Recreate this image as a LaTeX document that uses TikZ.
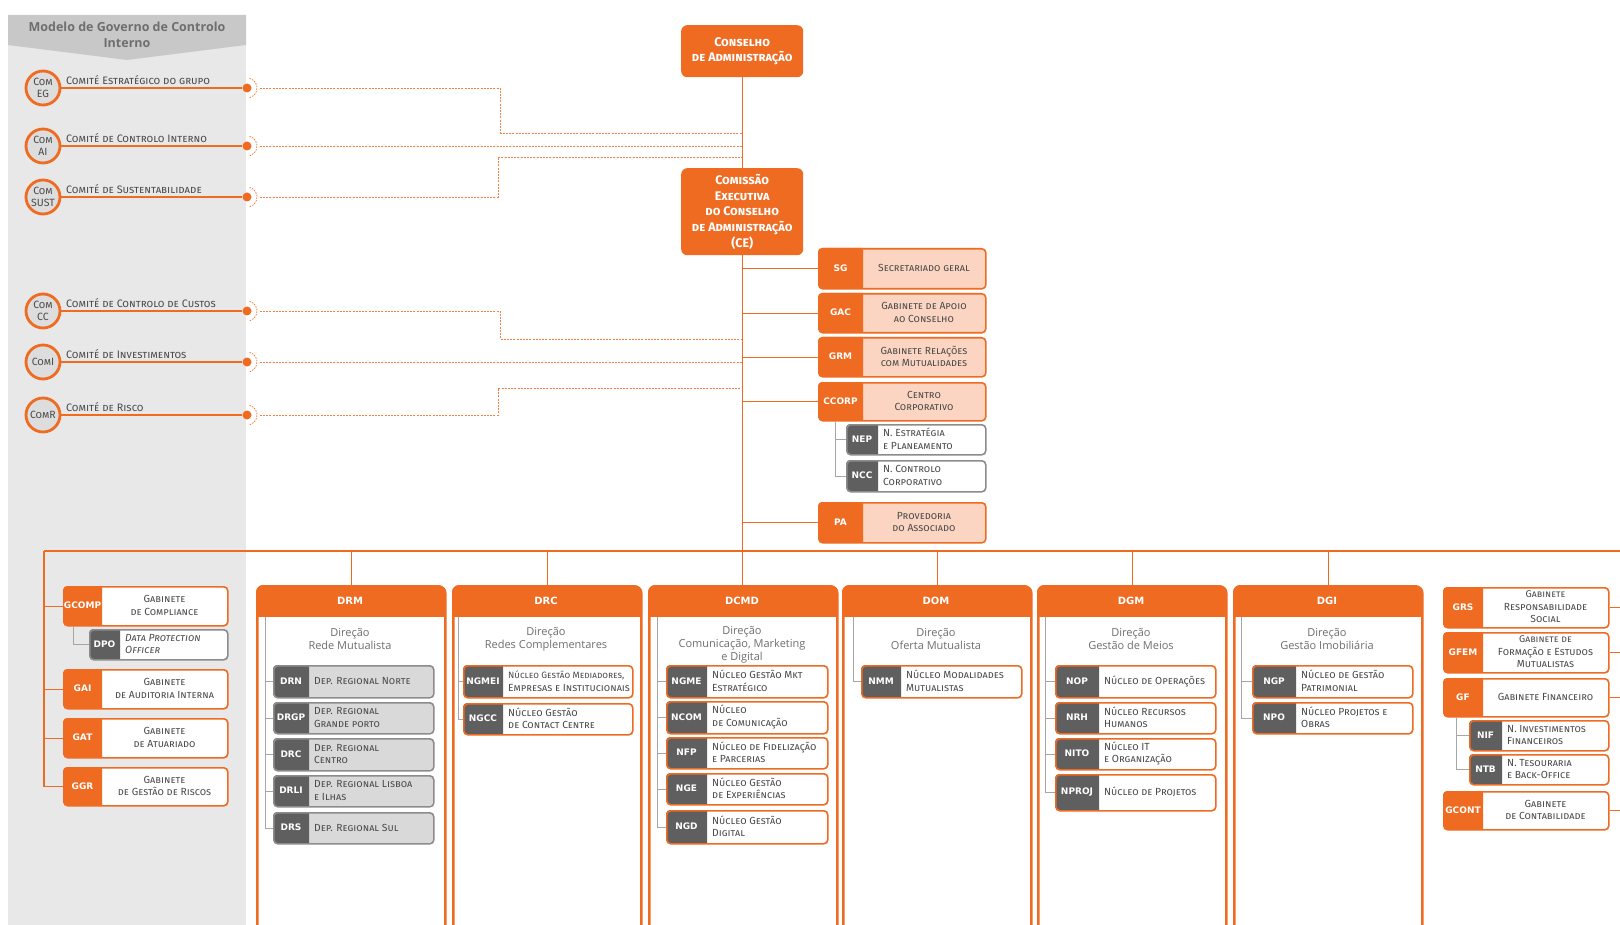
\documentclass[tikz,border=0pt]{standalone}
\usepackage{fontspec}
\setmainfont{Open Sans}
\newfontfamily\scf{Fira Sans}
\newfontfamily\cdf{DejaVu Sans}
\usetikzlibrary{calc}
\definecolor{OR}{HTML}{EE6B21}
\definecolor{SAL}{HTML}{FBD5C1}
\definecolor{DG}{HTML}{5F5F5F}
\definecolor{LG}{HTML}{D9D9D9}
\definecolor{GB}{HTML}{8C8C8C}
\definecolor{PAN}{HTML}{E8E8E8}
\definecolor{HDR}{HTML}{C8C8C8}
\definecolor{TX}{HTML}{4A4A4A}
\definecolor{TR}{HTML}{A6A6A6}
\definecolor{DIRT}{HTML}{6E6E6E}
\definecolor{CIR}{HTML}{DDDDDD}
\colorlet{salB}{OR}\colorlet{salC}{OR}\colorlet{salF}{SAL}
\colorlet{whtB}{OR}\colorlet{whtC}{OR}\colorlet{whtF}{white}
\colorlet{gryB}{GB}\colorlet{gryC}{DG}\colorlet{gryF}{LG}
\colorlet{nucB}{OR}\colorlet{nucC}{DG}\colorlet{nucF}{white}
\colorlet{subB}{GB}\colorlet{subC}{DG}\colorlet{subF}{white}
\def\leftgry{}\def\leftnuc{}\def\leftsub{}
\tikzset{
  codetxt/.style={font=\cdf\bfseries\fontsize{9}{11}\selectfont, text=white, inner sep=0pt},
  labtxt/.style={font=\scf\scshape\fontsize{10.3}{12.5}\selectfont, text=TX, inner sep=0pt},
  hdrtxt/.style={font=\cdf\bfseries\fontsize{10}{11}\selectfont, text=white, inner sep=0pt},
  dirtxt/.style={font=\fontsize{11}{12.8}\selectfont, text=DIRT, align=center, inner sep=0pt},
  commc/.style={circle, draw=OR, line width=2.8pt, fill=CIR, minimum size=34pt, inner sep=0pt, font=\scf\scshape\fontsize{10.5}{11.5}\selectfont, text=TX, align=center},
  dotn/.style={circle, fill=OR, minimum size=9pt, inner sep=0pt},
  commlab/.style={font=\scf\scshape\fontsize{10.8}{12}\selectfont, text=TX, inner sep=1pt},
  topbox/.style={fill=OR, rounded corners=6pt, text=white, font=\scf\scshape\bfseries\fontsize{12.5}{15.8}\selectfont, align=center, inner sep=0pt, anchor=north west},
  ln/.style={draw=OR, line width=1.2pt},
  tree/.style={draw=TR, line width=1pt},
  dsh/.style={draw=OR!85, line width=0.8pt, dash pattern=on 2pt off 1.2pt},
  ttl/.style={font=\bfseries\fontsize{12.5}{16}\selectfont, text=DIRT, align=center, inner sep=0pt}
}
\newcommand\ubox[9][sal]{%
  \fill[#1F, rounded corners=4pt] (#3,#4) rectangle (#5,#6);
  \begin{scope}
    \clip (#3-3,#4-3) rectangle (#7,#6+3);
    \fill[#1C, rounded corners=4pt] (#3,#4) rectangle (#5,#6);
  \end{scope}
  \node[draw=#1B, line width=1.6pt, rounded corners=4pt, inner sep=0pt, outer sep=0.8pt, anchor=north west, minimum width={(#5-#3)*1pt}, minimum height={(#6-#4)*1pt}] (#2) at (#3,#4) {};
  \node[codetxt] at ({(#3+#7)/2},{(#4+#6)/2}) {#8};
  \expandafter\ifx\csname left#1\endcsname\relax
    \node[labtxt, align=center] at ({(#7+#5)/2},{(#4+#6)/2}) {#9};
  \else
    \node[labtxt, align=left, anchor=west] at ({#7+5},{(#4+#6)/2}) {#9};
  \fi
}
\newcommand\dircol[6]{%
  \begin{scope}
    \clip[rounded corners=7pt] (#2,585) rectangle (#3,990);
    \fill[white] (#2,585) rectangle (#3,990);
    \fill[OR] (#2,585) rectangle (#3,617);
  \end{scope}
  \node[draw=OR, line width=2.6pt, rounded corners=7pt, inner sep=0pt, anchor=north west, minimum width={(#3-#2)*1pt}, minimum height=400pt] (#1) at (#2,585) {};
  \node[hdrtxt] at ({(#2+#3)/2},601) {#4};
  \node[dirtxt] at ({(#2+#3)/2},#6) {#5};
}
\newcommand\comm[4]{%
  \node[commc] (c#1) at (43,#2) {#3};
  \node[dotn] (d#1) at (247,#2) {};
  \draw[OR, line width=2.2pt] (c#1) -- (d#1);
  \node[commlab, anchor=south west] at (65,#2-2) {#4};
  \draw[OR, dash pattern=on 1.5pt off 1.2pt, line width=0.7pt] (d#1) ++(-75:10) arc[start angle=-75, end angle=75, radius=10];
}
\begin{document}
\begin{tikzpicture}[x=1pt,y=-1pt]
\useasboundingbox (0,0) rectangle (1620,925);
\fill[white] (0,0) rectangle (1620,925);
% left panel
\fill[PAN] (8,15) rectangle (246,925);
\fill[HDR] (8,15) -- (246,15) -- (246,45) -- (127,60) -- (8,45) -- cycle;
\node[ttl] (title) at (127,35) {Modelo de Governo de Controlo\\Interno};
% committees
\comm{EG}{88}{Com\\EG}{Comité Estratégico do grupo}
\comm{AI}{146}{Com\\AI}{Comité de Controlo Interno}
\comm{SUST}{197}{Com\\SUST}{Comité de Sustentabilidade}
\comm{CC}{311}{Com\\CC}{Comité de Controlo de Custos}
\comm{I}{362}{ComI}{Comité de Investimentos}
\comm{R}{415}{ComR}{Comité de Risco}
% top boxes
\node[topbox, minimum width=122pt, minimum height=52pt] (ca) at (681,25) {Conselho\\de Administração};
\node[topbox, minimum width=122pt, minimum height=87pt] (ce) at (681,168) {Comissão\\Executiva\\do Conselho\\de Administração\\(CE)};
% main line coordinates
\coordinate (mEG) at (742,133);
\coordinate (mAI) at (742,146);
\coordinate (mSUST) at (742,157);
\coordinate (mCC) at (742,339);
\coordinate (mI) at (742,362);
\coordinate (mR) at (742,388);
\coordinate (kEG) at (500,88);
\coordinate (kSUST) at (498,197);
\coordinate (kCC) at (500,311);
\coordinate (kR) at (498,415);
\draw[dsh] (dEG.east) ++(8,0) -- (kEG) |- (mEG);
\draw[dsh] (dAI.east) ++(8,0) -- (mAI);
\draw[dsh] (dSUST.east) ++(8,0) -- (kSUST) |- (mSUST);
\draw[dsh] (dCC.east) ++(8,0) -- (kCC) |- (mCC);
\draw[dsh] (dI.east) ++(8,0) -- (mI);
\draw[dsh] (dR.east) ++(8,0) -- (kR) |- (mR);
% CE side boxes
\ubox{sg}{818}{248}{985}{288}{863}{SG}{Secretariado geral}
\ubox{gac}{818}{293}{985}{332}{863}{GAC}{Gabinete de Apoio\\ao Conselho}
\ubox{grm}{818}{337}{985}{376}{863}{GRM}{Gabinete Relações\\com Mutualidades}
\ubox{ccorp}{818}{382}{985}{420}{863}{CCORP}{Centro\\Corporativo}
\ubox[sub]{nep}{846}{424}{985}{454}{878}{NEP}{N. Estratégia\\e Planeamento}
\ubox[sub]{ncc}{846}{460}{985}{491}{878}{NCC}{N. Controlo\\Corporativo}
\ubox{pa}{818}{502}{985}{542}{863}{PA}{Provedoria\\do Associado}
\draw[tree] ([xshift=17pt]ccorp.south west) |- (nep.west);
\draw[tree] ([xshift=17pt]ccorp.south west) |- (ncc.west);
% columns
\dircol{cDRM}{256}{444}{DRM}{Direção\\Rede Mutualista}{639}
\dircol{cDRC}{452}{640}{DRC}{Direção\\Redes Complementares}{639}
\dircol{cDCMD}{648}{836}{DCMD}{Direção\\Comunicação, Marketing\\e Digital}{645}
\dircol{cDOM}{842}{1030}{DOM}{Direção\\Oferta Mutualista}{639}
\dircol{cDGM}{1037}{1225}{DGM}{Direção\\Gestão de Meios}{639}
\dircol{cDGI}{1233}{1421}{DGI}{Direção\\Gestão Imobiliária}{639}
% main line and bus
\coordinate (busL) at (44,551);
\coordinate (busR) at (1620,551);
\draw[ln] (ca) -- (ce);
\draw[ln] (ce.south) -- (ce.south |- cDCMD.north);
\draw[ln] (busL) -- (busR);
\foreach \n in {sg,gac,grm,ccorp,pa} \draw[ln] (ce.south |- \n.west) -- (\n.west);
\foreach \n in {cDRM,cDRC,cDOM,cDGM,cDGI} \draw[ln] (\n.north |- busL) -- (\n.north);
% left boxes
\ubox[wht]{gcomp}{63}{586}{227}{625}{102}{GCOMP}{Gabinete\\de Compliance}
\ubox[sub]{dpo}{89}{629}{227}{659}{120}{DPO}{{\itshape Data Protection}\\{\itshape Officer}}
\ubox[wht]{gai}{63}{669}{227}{708}{102}{GAI}{Gabinete\\de Auditoria Interna}
\ubox[wht]{gat}{63}{718}{227}{757}{102}{GAT}{Gabinete\\de Atuariado}
\ubox[wht]{ggr}{63}{767}{227}{805}{102}{GGR}{Gabinete\\de Gestão de Riscos}
\foreach \n in {gcomp,gai,gat,ggr} \draw[ln] (busL) |- (\n.west);
\draw[tree] ([xshift=10pt]gcomp.south west) |- (dpo.west);
% DRM items
\ubox[gry]{drn}{273}{665}{433}{697}{309}{DRN}{Dep. Regional Norte}
\ubox[gry]{drgp}{273}{702}{433}{733}{309}{DRGP}{Dep. Regional\\Grande porto}
\ubox[gry]{idrc}{273}{738}{433}{770}{309}{DRC}{Dep. Regional\\Centro}
\ubox[gry]{drli}{273}{775}{433}{806}{309}{DRLI}{Dep. Regional Lisboa\\e Ilhas}
\ubox[gry]{drs}{273}{812}{433}{843}{309}{DRS}{Dep. Regional Sul}
\foreach \n in {drn,drgp,idrc,drli,drs} \draw[tree] (265,617) |- (\n.west);
% DRC items
\ubox[nuc]{ngmei}{463}{665}{632}{697}{503}{NGMEI}{\fontsize{9.2}{11}\selectfont Núcleo Gestão Mediadores,\\Empresas e Institucionais}
\ubox[nuc]{ngcc}{463}{703}{632}{734}{503}{NGCC}{Núcleo Gestão\\de Contact Centre}
\foreach \n in {ngmei,ngcc} \draw[tree] (458,617) |- (\n.west);
% DCMD items
\ubox[nuc]{ngme}{666}{665}{827}{697}{707}{NGME}{Núcleo Gestão Mkt\\Estratégico}
\ubox[nuc]{ncom}{666}{701}{827}{733}{707}{NCOM}{Núcleo\\de Comunicação}
\ubox[nuc]{nfp}{666}{737}{827}{768}{707}{NFP}{Núcleo de Fidelização\\e Parcerias}
\ubox[nuc]{nge}{666}{773}{827}{804}{707}{NGE}{Núcleo Gestão\\de Experiências}
\ubox[nuc]{ngd}{666}{810}{827}{843}{707}{NGD}{Núcleo Gestão\\Digital}
\foreach \n in {ngme,ncom,nfp,nge,ngd} \draw[tree] (657,617) |- (\n.west);
% DOM items
\ubox[nuc]{nmm}{861}{665}{1021}{697}{901}{NMM}{Núcleo Modalidades\\Mutualistas}
\draw[tree] (853,617) |- (nmm.west);
% DGM items
\ubox[nuc]{nop}{1055}{665}{1215}{697}{1099}{NOP}{Núcleo de Operações}
\ubox[nuc]{nrh}{1055}{702}{1215}{733}{1099}{NRH}{Núcleo Recursos\\Humanos}
\ubox[nuc]{nito}{1055}{738}{1215}{769}{1099}{NITO}{Núcleo IT\\e Organização}
\ubox[nuc]{nproj}{1055}{774}{1215}{810}{1099}{NPROJ}{Núcleo de Projetos}
\foreach \n in {nop,nrh,nito,nproj} \draw[tree] (1045,617) |- (\n.west);
% DGI items
\ubox[nuc]{ngp}{1252}{665}{1412}{697}{1296}{NGP}{Núcleo de Gestão\\Patrimonial}
\ubox[nuc]{npo}{1252}{702}{1412}{733}{1296}{NPO}{Núcleo Projetos e\\Obras}
\foreach \n in {ngp,npo} \draw[tree] (1241,617) |- (\n.west);
% right column
\ubox[wht]{grs}{1443}{587}{1608}{627}{1483}{GRS}{\fontsize{9.8}{13.2}\selectfont Gabinete\\Responsabilidade\\Social}
\ubox[wht]{gfem}{1443}{632}{1608}{672}{1483}{GFEM}{\fontsize{9.8}{13.2}\selectfont Gabinete de\\Formação e Estudos\\Mutualistas}
\ubox[wht]{gf}{1443}{678}{1608}{716}{1483}{GF}{Gabinete Financeiro}
\ubox[nuc]{nif}{1469}{720}{1608}{750}{1502}{NIF}{N. Investimentos\\Financeiros}
\ubox[nuc]{ntb}{1469}{754}{1608}{784}{1502}{NTB}{N. Tesouraria\\e Back-Office}
\ubox[wht]{gcont}{1443}{791}{1608}{829}{1483}{GCONT}{Gabinete\\de Contabilidade}
\draw[tree] ([xshift=13pt]gf.south west) |- (nif.west);
\draw[tree] ([xshift=13pt]gf.south west) |- (ntb.west);
\foreach \n in {grs,gfem,gf,gcont} \draw[ln] (\n.east) -- (\n.east -| busR);
\end{tikzpicture}
\end{document}
